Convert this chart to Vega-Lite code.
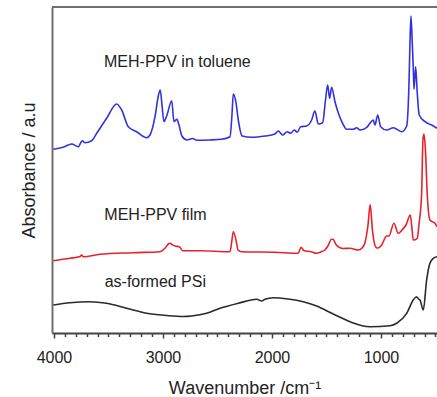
{
  "$schema": "https://vega.github.io/schema/vega-lite/v6.json",
  "width": 385,
  "height": 326,
  "autosize": {"type": "none"},
  "padding": {"left": 52, "top": 7, "right": 0, "bottom": 64},
  "background": "white",
  "config": {"view": {"stroke": null}, "font": "Liberation Sans"},
  "datasets": {
    "spectra": [
      {"series": "toluene", "w": 4006, "a": 183.7},
      {"series": "toluene", "w": 3917, "a": 185.7},
      {"series": "toluene", "w": 3838, "a": 189},
      {"series": "toluene", "w": 3777, "a": 186.3},
      {"series": "toluene", "w": 3740, "a": 192.3},
      {"series": "toluene", "w": 3716, "a": 190.3},
      {"series": "toluene", "w": 3654, "a": 192.3},
      {"series": "toluene", "w": 3608, "a": 199.7},
      {"series": "toluene", "w": 3517, "a": 214.7},
      {"series": "toluene", "w": 3425, "a": 229},
      {"series": "toluene", "w": 3379, "a": 223},
      {"series": "toluene", "w": 3318, "a": 206.3},
      {"series": "toluene", "w": 3241, "a": 201.3},
      {"series": "toluene", "w": 3150, "a": 195.3},
      {"series": "toluene", "w": 3119, "a": 198},
      {"series": "toluene", "w": 3073, "a": 216.3},
      {"series": "toluene", "w": 3041, "a": 238},
      {"series": "toluene", "w": 3025, "a": 243},
      {"series": "toluene", "w": 3009, "a": 228},
      {"series": "toluene", "w": 2991, "a": 211.3},
      {"series": "toluene", "w": 2963, "a": 218},
      {"series": "toluene", "w": 2920, "a": 232.3},
      {"series": "toluene", "w": 2899, "a": 211.3},
      {"series": "toluene", "w": 2872, "a": 213.7},
      {"series": "toluene", "w": 2853, "a": 208},
      {"series": "toluene", "w": 2826, "a": 197},
      {"series": "toluene", "w": 2780, "a": 193},
      {"series": "toluene", "w": 2729, "a": 194.5},
      {"series": "toluene", "w": 2688, "a": 192.7},
      {"series": "toluene", "w": 2569, "a": 193},
      {"series": "toluene", "w": 2462, "a": 193.7},
      {"series": "toluene", "w": 2385, "a": 196.3},
      {"series": "toluene", "w": 2367, "a": 218},
      {"series": "toluene", "w": 2355, "a": 239},
      {"series": "toluene", "w": 2330, "a": 230.3},
      {"series": "toluene", "w": 2309, "a": 213},
      {"series": "toluene", "w": 2273, "a": 197},
      {"series": "toluene", "w": 2186, "a": 195.7},
      {"series": "toluene", "w": 2064, "a": 197},
      {"series": "toluene", "w": 1973, "a": 199},
      {"series": "toluene", "w": 1942, "a": 202},
      {"series": "toluene", "w": 1902, "a": 198},
      {"series": "toluene", "w": 1860, "a": 201.3},
      {"series": "toluene", "w": 1829, "a": 199.7},
      {"series": "toluene", "w": 1796, "a": 203},
      {"series": "toluene", "w": 1768, "a": 200.7},
      {"series": "toluene", "w": 1737, "a": 206.3},
      {"series": "toluene", "w": 1682, "a": 207},
      {"series": "toluene", "w": 1636, "a": 213},
      {"series": "toluene", "w": 1606, "a": 222},
      {"series": "toluene", "w": 1575, "a": 209},
      {"series": "toluene", "w": 1535, "a": 210.3},
      {"series": "toluene", "w": 1509, "a": 233},
      {"series": "toluene", "w": 1489, "a": 248},
      {"series": "toluene", "w": 1471, "a": 234.7},
      {"series": "toluene", "w": 1453, "a": 245.7},
      {"series": "toluene", "w": 1422, "a": 231.3},
      {"series": "toluene", "w": 1385, "a": 218},
      {"series": "toluene", "w": 1352, "a": 209.7},
      {"series": "toluene", "w": 1315, "a": 203.7},
      {"series": "toluene", "w": 1254, "a": 203.7},
      {"series": "toluene", "w": 1223, "a": 205.3},
      {"series": "toluene", "w": 1193, "a": 203},
      {"series": "toluene", "w": 1131, "a": 205.7},
      {"series": "toluene", "w": 1092, "a": 211},
      {"series": "toluene", "w": 1071, "a": 213},
      {"series": "toluene", "w": 1055, "a": 208},
      {"series": "toluene", "w": 1030, "a": 218},
      {"series": "toluene", "w": 1003, "a": 206.3},
      {"series": "toluene", "w": 948, "a": 203},
      {"series": "toluene", "w": 887, "a": 205.3},
      {"series": "toluene", "w": 810, "a": 201.3},
      {"series": "toluene", "w": 764, "a": 207},
      {"series": "toluene", "w": 743, "a": 249.7},
      {"series": "toluene", "w": 734, "a": 290},
      {"series": "toluene", "w": 725, "a": 317},
      {"series": "toluene", "w": 713, "a": 290},
      {"series": "toluene", "w": 704, "a": 266.3},
      {"series": "toluene", "w": 697, "a": 243.7},
      {"series": "toluene", "w": 682, "a": 266.3},
      {"series": "toluene", "w": 667, "a": 239.7},
      {"series": "toluene", "w": 649, "a": 218},
      {"series": "toluene", "w": 596, "a": 211.3},
      {"series": "toluene", "w": 535, "a": 208},
      {"series": "toluene", "w": 486, "a": 204.7},

      {"series": "film", "w": 4006, "a": 72.3},
      {"series": "film", "w": 3853, "a": 74.7},
      {"series": "film", "w": 3761, "a": 76.5},
      {"series": "film", "w": 3746, "a": 78},
      {"series": "film", "w": 3731, "a": 76.3},
      {"series": "film", "w": 3578, "a": 78.7},
      {"series": "film", "w": 3272, "a": 80.3},
      {"series": "film", "w": 3028, "a": 81.3},
      {"series": "film", "w": 2982, "a": 84.7},
      {"series": "film", "w": 2951, "a": 89},
      {"series": "film", "w": 2936, "a": 89.7},
      {"series": "film", "w": 2917, "a": 88.5},
      {"series": "film", "w": 2890, "a": 87},
      {"series": "film", "w": 2850, "a": 86.3},
      {"series": "film", "w": 2819, "a": 82.3},
      {"series": "film", "w": 2661, "a": 82.3},
      {"series": "film", "w": 2385, "a": 81.3},
      {"series": "film", "w": 2367, "a": 93},
      {"series": "film", "w": 2355, "a": 101.3},
      {"series": "film", "w": 2324, "a": 89.7},
      {"series": "film", "w": 2312, "a": 83},
      {"series": "film", "w": 2278, "a": 81.3},
      {"series": "film", "w": 1973, "a": 80.7},
      {"series": "film", "w": 1759, "a": 79.7},
      {"series": "film", "w": 1734, "a": 85.7},
      {"series": "film", "w": 1706, "a": 82.3},
      {"series": "film", "w": 1640, "a": 81.3},
      {"series": "film", "w": 1591, "a": 79.7},
      {"series": "film", "w": 1548, "a": 81.3},
      {"series": "film", "w": 1514, "a": 83},
      {"series": "film", "w": 1487, "a": 87},
      {"series": "film", "w": 1453, "a": 93.7},
      {"series": "film", "w": 1441, "a": 93.7},
      {"series": "film", "w": 1409, "a": 88},
      {"series": "film", "w": 1349, "a": 84.5},
      {"series": "film", "w": 1284, "a": 84.7},
      {"series": "film", "w": 1208, "a": 83},
      {"series": "film", "w": 1174, "a": 85},
      {"series": "film", "w": 1147, "a": 90.3},
      {"series": "film", "w": 1119, "a": 108},
      {"series": "film", "w": 1099, "a": 128.5},
      {"series": "film", "w": 1077, "a": 101.3},
      {"series": "film", "w": 1046, "a": 85.7},
      {"series": "film", "w": 1028, "a": 85},
      {"series": "film", "w": 994, "a": 88},
      {"series": "film", "w": 948, "a": 97},
      {"series": "film", "w": 927, "a": 97},
      {"series": "film", "w": 881, "a": 109.7},
      {"series": "film", "w": 842, "a": 99.7},
      {"series": "film", "w": 820, "a": 101.3},
      {"series": "film", "w": 801, "a": 103.7},
      {"series": "film", "w": 771, "a": 108},
      {"series": "film", "w": 731, "a": 118},
      {"series": "film", "w": 716, "a": 105},
      {"series": "film", "w": 704, "a": 93},
      {"series": "film", "w": 667, "a": 94.7},
      {"series": "film", "w": 652, "a": 108},
      {"series": "film", "w": 627, "a": 139.7},
      {"series": "film", "w": 615, "a": 193},
      {"series": "film", "w": 606, "a": 199},
      {"series": "film", "w": 592, "a": 183},
      {"series": "film", "w": 576, "a": 139.7},
      {"series": "film", "w": 551, "a": 113},
      {"series": "film", "w": 505, "a": 109.7},
      {"series": "film", "w": 486, "a": 106.3},

      {"series": "PSi", "w": 4006, "a": 28},
      {"series": "PSi", "w": 3853, "a": 30.3},
      {"series": "PSi", "w": 3670, "a": 31.3},
      {"series": "PSi", "w": 3517, "a": 29.7},
      {"series": "PSi", "w": 3333, "a": 24.7},
      {"series": "PSi", "w": 3150, "a": 19.7},
      {"series": "PSi", "w": 2966, "a": 17.5},
      {"series": "PSi", "w": 2814, "a": 16.5},
      {"series": "PSi", "w": 2737, "a": 17},
      {"series": "PSi", "w": 2599, "a": 19.7},
      {"series": "PSi", "w": 2477, "a": 24.7},
      {"series": "PSi", "w": 2309, "a": 29.7},
      {"series": "PSi", "w": 2140, "a": 33.7},
      {"series": "PSi", "w": 2095, "a": 32},
      {"series": "PSi", "w": 2064, "a": 33.7},
      {"series": "PSi", "w": 1988, "a": 35.3},
      {"series": "PSi", "w": 1851, "a": 34},
      {"series": "PSi", "w": 1713, "a": 31.3},
      {"series": "PSi", "w": 1590, "a": 27},
      {"series": "PSi", "w": 1438, "a": 19},
      {"series": "PSi", "w": 1284, "a": 11.3},
      {"series": "PSi", "w": 1101, "a": 6.3},
      {"series": "PSi", "w": 917, "a": 7.3},
      {"series": "PSi", "w": 856, "a": 9.7},
      {"series": "PSi", "w": 764, "a": 19.7},
      {"series": "PSi", "w": 704, "a": 33},
      {"series": "PSi", "w": 673, "a": 36.3},
      {"series": "PSi", "w": 656, "a": 34},
      {"series": "PSi", "w": 642, "a": 33},
      {"series": "PSi", "w": 612, "a": 23},
      {"series": "PSi", "w": 581, "a": 53},
      {"series": "PSi", "w": 551, "a": 69.7},
      {"series": "PSi", "w": 520, "a": 74.7},
      {"series": "PSi", "w": 486, "a": 76.3}
    ],
    "labels": [
      {"label": "MEH-PPV in toluene", "w": 3541, "a": 271},
      {"label": "MEH-PPV film", "w": 3538, "a": 118},
      {"label": "as-formed PSi", "w": 3535, "a": 51.5}
    ],
    "frame": [{"w": 4018, "a": 326}, {"w": 486, "a": 326}]
  },
  "encoding": {
    "x": {
      "field": "w", "type": "quantitative",
      "scale": {"domain": [486, 4018], "reverse": true, "nice": false, "zero": false},
      "axis": {
        "title": "Wavenumber /cm⁻¹",
        "values": [4000, 3900, 3800, 3700, 3600, 3500, 3400, 3300, 3200, 3100, 3000, 2900, 2800, 2700, 2600, 2500, 2400, 2300, 2200, 2100, 2000, 1900, 1800, 1700, 1600, 1500, 1400, 1300, 1200, 1100, 1000, 900, 800, 700, 600, 500],
        "format": "d",
        "labelExpr": "(datum.value == 4000 || datum.value == 3000 || datum.value == 2000 || datum.value == 1000) ? datum.label : ''",
        "tickSize": {"condition": {"test": "datum.value % 1000 == 0", "value": 5}, "value": 3.5},
        "tickColor": "#444444",
        "tickWidth": 1.5,
        "domainColor": "#444444",
        "domainWidth": 1.8,
        "grid": false,
        "labelFontSize": 16,
        "labelColor": "#222222",
        "labelPadding": 11,
        "labelOverlap": false,
        "labelFlush": false,
        "labelBound": false,
        "titleFontSize": 18,
        "titleFontWeight": "normal",
        "titleColor": "#222222",
        "titleBaseline": "alphabetic",
        "titleY": 60
      }
    },
    "y": {
      "field": "a", "type": "quantitative",
      "scale": {"domain": [0, 326], "nice": false, "zero": false},
      "axis": {
        "title": "Absorbance / a.u",
        "labels": false,
        "ticks": false,
        "grid": false,
        "domainColor": "#707070",
        "domainWidth": 2,
        "titleFontSize": 18,
        "titleFontWeight": "normal",
        "titleColor": "#222222",
        "titlePadding": 14
      }
    }
  },
  "layer": [
    {
      "data": {"name": "spectra"},
      "mark": {"type": "line", "interpolate": "monotone", "strokeWidth": 1.6, "clip": true},
      "encoding": {
        "color": {
          "field": "series", "type": "nominal",
          "scale": {"domain": ["toluene", "film", "PSi"], "range": ["#3232dd", "#e8222c", "#2a2a2a"]},
          "legend": null
        }
      }
    },
    {
      "data": {"name": "frame"},
      "mark": {"type": "line", "color": "#707070", "strokeWidth": 2},
      "encoding": {}
    },
    {
      "data": {"name": "labels"},
      "mark": {"type": "text", "align": "left", "baseline": "middle", "fontSize": 16, "color": "#222222", "font": "Liberation Sans"},
      "encoding": {
        "text": {"field": "label"}
      }
    }
  ]
}
